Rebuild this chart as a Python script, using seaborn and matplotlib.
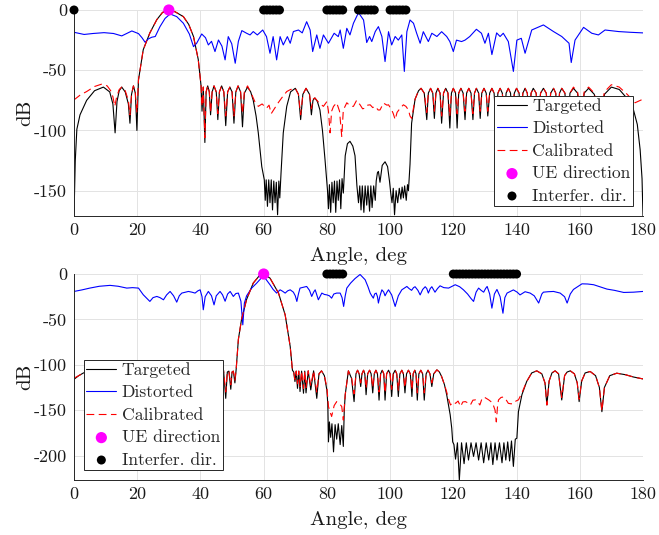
import seaborn as sns
import matplotlib.pyplot as plt
import numpy as np
import warnings

warnings.filterwarnings('ignore')

# ---- data (angle in deg, level in dB) ----
top_targeted = [
    (0, -171), (0.4, -125), (0.9, -99), (1.9, -87), (4.0, -75), (6.5, -67), (9.3, -64), (11.3, -68),
    (12.3, -78), (13.0, -102), (13.6, -76), (14.3, -67), (15.1, -64), (16.2, -68), (17.2, -78), (17.7, -94),
    (18.2, -70), (18.8, -63), (19.4, -69), (19.9, -100), (20.4, -58), (21.9, -33), (24.0, -19), (26.2, -8),
    (28.0, -2), (30.0, 0), (32.0, -1.5), (34.6, -5.5), (36.3, -12), (37.8, -22), (39.3, -41), (40.2, -63),
    (40.5, -84), (40.9, -64), (41.4, -110), (41.8, -68), (42.3, -63), (42.8, -68), (43.2, -87), (43.7, -68),
    (44.3, -63), (45.0, -68), (45.5, -91), (46.0, -68), (46.7, -63), (47.4, -68), (48.0, -96), (48.6, -68),
    (49.3, -64), (50.0, -68), (50.6, -94), (51.2, -68), (51.9, -63), (52.7, -68), (53.3, -97), (53.9, -69),
    (54.9, -64), (55.9, -68), (56.7, -75), (57.6, -88), (58.3, -102), (59.4, -130), (60.2, -141),
    (60.5, -158), (60.8, -141), (61.2, -163), (61.6, -141), (62.0, -160), (62.4, -141), (62.8, -166),
    (63.2, -142), (63.6, -160), (64.0, -143), (64.4, -170), (64.8, -142), (65.1, -156), (65.5, -135),
    (66.2, -102), (67.3, -80), (68.5, -68), (70.0, -65), (71.0, -70), (71.7, -91), (72.4, -70), (73.4, -65),
    (74.5, -70), (75.1, -87), (75.6, -75), (76.2, -73), (77.0, -76), (77.8, -83), (78.6, -100), (79.4, -124),
    (80.2, -150), (80.5, -165), (80.8, -145), (81.2, -168), (81.6, -143), (82.0, -160), (82.4, -142),
    (82.8, -168), (83.2, -142), (83.6, -158), (84.0, -141), (84.4, -165), (84.8, -140), (85.2, -152),
    (85.8, -121), (86.5, -111), (87.3, -109), (88.2, -113), (88.9, -121), (89.5, -146), (90.0, -160),
    (90.4, -146), (90.8, -166), (91.2, -146), (91.7, -168), (92.1, -146), (92.6, -162), (93.0, -146),
    (93.5, -167), (93.9, -146), (94.3, -164), (94.8, -146), (95.3, -158), (95.6, -142), (96.0, -135),
    (96.3, -134), (96.8, -143), (97.5, -129), (98.4, -126), (99.2, -130), (99.8, -142), (100.2, -152),
    (100.6, -160), (101.0, -148), (101.4, -170), (101.9, -150), (102.4, -160), (102.9, -148), (103.4, -157),
    (103.8, -147), (104.2, -156), (104.6, -146), (105.1, -158), (105.5, -145), (105.8, -150), (106.3, -128),
    (106.8, -94), (107.9, -74), (109.0, -67), (109.8, -65), (110.8, -69), (111.6, -91), (112.1, -69),
    (112.8, -65), (113.5, -69), (114.0, -90), (114.5, -69), (115.1, -65), (115.8, -69), (116.3, -94),
    (116.9, -69), (117.6, -65), (118.3, -69), (118.9, -98), (119.4, -69), (120.0, -65), (120.7, -69),
    (121.2, -98), (121.7, -69), (122.4, -65), (123.1, -69), (123.7, -91), (124.2, -69), (124.9, -65),
    (125.6, -69), (126.2, -91), (126.7, -69), (127.3, -65), (128.0, -69), (128.5, -90), (129.0, -69),
    (129.7, -65), (130.4, -69), (130.9, -88), (131.5, -69), (132.2, -65), (132.9, -69), (133.5, -95),
    (134.1, -69), (134.8, -65), (135.5, -69), (136.1, -92), (136.7, -69), (137.4, -65), (138.1, -69),
    (138.7, -92), (139.3, -69), (140.0, -65), (140.8, -69), (141.4, -94), (142.0, -69), (142.7, -65),
    (143.4, -69), (144.0, -92), (144.6, -69), (145.3, -65), (146.2, -69), (146.9, -95), (147.6, -69),
    (148.5, -65), (149.4, -69), (150.1, -95), (150.8, -69), (151.7, -65), (152.4, -69), (153.0, -96),
    (153.6, -69), (154.3, -65), (155.3, -69), (156.1, -98), (156.9, -69), (158.0, -65), (159.3, -69),
    (160.4, -100), (161.4, -69), (162.8, -65), (164.6, -70), (166.4, -104), (167.8, -70), (170.0, -64),
    (172.5, -66), (174.5, -72), (177.0, -83), (178.2, -95), (179.1, -116), (179.7, -140), (180, -171),
]

top_distorted = [
    (0, -18.5), (3.2, -20.3), (6, -19.5), (9.5, -18.8), (12.5, -19.5), (15.1, -21.5), (18.3, -17.4),
    (20.4, -19.6), (21.5, -23), (22.5, -26.8), (23.5, -24), (24.6, -22.6), (25.7, -22), (27.2, -13.8),
    (28.8, -7), (30.4, -3.3), (32.5, -5.5), (34.6, -11), (36.5, -20), (37.8, -30.4), (38.8, -27.6),
    (40.4, -19.9), (41.6, -23), (42.5, -29), (43.5, -26), (44.6, -34.5), (45.7, -24.9), (46.8, -30),
    (47.8, -41.4), (48.8, -22.1), (49.9, -28), (51.0, -44.2), (52.0, -26), (53.1, -17.1), (54.6, -19.3),
    (55.7, -20.7), (56.7, -17.9), (58, -20.7), (59.7, -16.6), (60.9, -22.1), (62, -35.9), (63, -22.1),
    (64.1, -41.4), (65.2, -22.1), (66.2, -29), (67.5, -22.1), (68.4, -27.6), (69.4, -17.9), (71.0, -16.6),
    (72.2, -19), (73.6, -9.7), (74.7, -16.6), (75.5, -34.5), (76.8, -20.7), (77.8, -31.8), (78.9, -20.7),
    (80.5, -27.6), (82.3, -19.3), (83.6, -22.1), (84.2, -16.6), (85.2, -31.8), (86.3, -15.2), (87.3, -20.7),
    (88.4, -11), (90.0, -2.2), (91.6, -8.3), (92.6, -27), (93.5, -22), (94.2, -26.2), (95.3, -17.9),
    (96.3, -13.8), (97.4, -22), (98.4, -42.8), (99.5, -18), (100.5, -29), (101.6, -22), (102.6, -25),
    (103.7, -20.7), (104.5, -51), (105.3, -18), (106.3, -8.3), (107.4, -11), (108.4, -19.3), (109.5, -27.6),
    (110.5, -18), (112.1, -26.2), (113.2, -19.3), (114.8, -22), (116.3, -18), (117.9, -22), (118.9, -26.2),
    (120, -34.5), (121, -25), (122.6, -26.2), (123.7, -25), (125.2, -22), (127.3, -16), (128.9, -19.3),
    (130, -27.6), (131.1, -19.3), (132.2, -37), (133.7, -19), (134.8, -22), (135.8, -19.3), (137.4, -26.2),
    (139.0, -51), (140.1, -25), (141.5, -23.5), (142.7, -35.9), (144.8, -16.6), (148.5, -12.4),
    (151.7, -17.9), (154.3, -22), (156.6, -27.6), (157.3, -43.6), (158.5, -25), (161.2, -14.4),
    (163.8, -19.3), (165.9, -20.7), (168, -16.6), (172.3, -17.9), (176, -18.5), (180, -19),
]

top_calibrated = [
    (0, -74.6), (2, -70.5), (4, -67.7), (6.5, -63.5), (8.8, -61.5), (10.5, -63), (11.6, -67), (12.3, -72),
    (12.9, -80), (13.5, -72), (14.3, -66), (15.1, -64), (16.2, -67), (17.2, -75), (17.7, -87), (18.2, -70),
    (18.8, -63), (19.4, -69), (19.9, -85), (20.4, -58), (21.9, -33), (24.0, -19), (26.2, -8), (28.0, -2),
    (30.0, 0), (32.0, -1.5), (34.6, -5.5), (36.3, -12), (37.8, -22), (39.3, -41), (40.2, -63), (40.5, -80),
    (40.9, -64), (41.4, -106), (41.8, -68), (42.3, -63), (42.8, -68), (43.2, -85), (43.7, -68), (44.3, -63),
    (45.0, -68), (45.5, -86), (46.0, -68), (46.7, -63), (47.4, -68), (48.0, -88), (48.6, -68), (49.3, -64),
    (50.0, -68), (50.6, -88), (51.2, -68), (51.9, -63), (52.7, -68), (53.3, -86), (53.9, -68), (54.9, -63),
    (56.2, -70), (57.2, -76), (58.3, -80), (59.5, -78), (60.9, -81.5), (61.7, -79), (62.4, -86), (63.5, -81.5),
    (64.6, -77), (65.7, -73), (67.3, -67.7), (68.5, -66), (70.0, -65), (71.0, -70), (71.7, -87), (72.4, -70),
    (73.4, -65), (74.5, -70), (75.1, -82), (75.6, -74), (76.2, -73), (77.5, -77), (78.9, -80), (80.0, -76),
    (80.5, -84), (81.0, -102), (81.5, -84), (82.1, -80), (83.1, -77), (84.0, -84), (84.7, -105), (85.2, -83),
    (86.3, -77), (87.1, -79), (87.9, -80), (88.4, -80), (89.4, -75), (90.5, -78.7), (91.3, -82),
    (92.1, -81.5), (92.9, -79), (93.7, -78.7), (94.5, -81), (95.3, -80), (96.2, -83), (96.8, -83),
    (97.9, -77.3), (99.0, -79), (99.5, -78.7), (100.5, -83), (101.0, -86), (101.6, -91), (102.2, -85),
    (103.2, -81.5), (104.2, -78.7), (105.0, -80), (105.8, -83), (106.3, -88), (106.8, -90), (107.9, -74),
    (109.0, -67), (109.8, -65), (110.8, -69), (111.6, -85), (112.1, -69), (112.8, -65), (113.5, -69),
    (114.0, -84), (114.5, -69), (115.1, -65), (115.8, -69), (116.3, -88), (116.9, -69), (117.6, -65),
    (118.3, -69), (118.9, -88), (119.4, -69), (120.0, -65), (120.7, -69), (121.2, -86), (121.7, -69),
    (122.4, -65), (123.1, -69), (123.7, -84), (124.2, -69), (124.9, -65), (125.6, -69), (126.2, -86),
    (126.7, -69), (127.3, -65), (128.0, -69), (128.5, -84), (129.0, -69), (129.7, -65), (130.4, -69),
    (130.9, -84), (131.5, -69), (132.2, -65), (132.9, -69), (133.5, -86), (134.1, -69), (134.8, -65),
    (135.5, -69), (136.1, -84), (136.7, -69), (137.4, -65), (138.1, -69), (138.7, -84), (139.3, -69),
    (140.0, -65), (140.8, -69), (141.4, -84), (142.0, -69), (142.7, -65), (143.4, -69), (144.0, -84),
    (144.6, -69), (145.3, -65), (146.2, -69), (146.9, -85), (147.6, -69), (148.5, -65), (149.4, -69),
    (150.1, -85), (150.8, -69), (151.7, -65), (152.4, -69), (153.0, -85), (153.6, -69), (154.3, -65),
    (155.3, -69), (156.1, -86), (156.9, -69), (158.0, -64), (159.3, -68), (160.4, -86), (161.4, -68),
    (162.8, -64), (164.6, -69), (166.4, -88), (167.8, -68), (170.0, -62), (172.5, -64), (175.0, -70),
    (177.5, -77), (180, -74),
]

bot_targeted = [
    (0, -116), (1.5, -112), (3, -109), (5, -107), (7, -106), (9, -107), (10, -125), (11, -107), (13, -106),
    (15, -108), (16, -130), (17, -108), (19, -106), (21, -108), (22, -128), (23, -108), (25, -106),
    (27, -108), (28, -132), (29, -108), (31, -106), (33, -108), (34, -130), (35, -108), (37, -106),
    (39, -108), (40, -128), (41, -108), (42.5, -106), (43.7, -108), (44.5, -130), (45.0, -108),
    (45.8, -106.7), (46.1, -138), (46.6, -108), (47.3, -106), (48.0, -137), (48.5, -108), (49.0, -107),
    (49.6, -127), (50.0, -108), (50.4, -107), (50.9, -120), (51.3, -105), (52.0, -72), (53.0, -50),
    (54.6, -28), (56.7, -10), (58.8, -1.1), (60.0, 0), (62.0, -4.5), (64.7, -21), (66.8, -45), (68.4, -80),
    (69.1, -106), (69.5, -108), (69.9, -118.5), (70.3, -107), (70.7, -126), (71.1, -107), (71.5, -129.5),
    (72.0, -107), (72.6, -131.4), (73.0, -107), (73.4, -131), (74.1, -106.7), (74.9, -127.7),
    (75.8, -106.7), (76.8, -137), (77.5, -110), (78.3, -106.7), (79.2, -112), (80.0, -128), (80.3, -144),
    (80.5, -185), (80.8, -163), (81.2, -180), (81.6, -165), (82.1, -196), (82.6, -166), (83.1, -182),
    (83.6, -165), (84.2, -188), (84.7, -167), (85.2, -190), (85.5, -150), (85.8, -133), (86.8, -106.7),
    (87.8, -115), (88.6, -140.6), (89.2, -110), (89.7, -106), (90.2, -110), (90.7, -124), (91.1, -110),
    (91.6, -106), (92.0, -110), (92.4, -133), (92.9, -110), (93.5, -106), (94.0, -110), (94.5, -131),
    (95.0, -110), (95.5, -106), (96.0, -110), (96.5, -139), (97.0, -110), (97.5, -106), (98.0, -110),
    (98.4, -139), (98.9, -110), (99.5, -106), (100.0, -110), (100.5, -135), (101.0, -110), (101.6, -106),
    (102.1, -110), (102.6, -135), (103.1, -110), (103.7, -106), (104.2, -110), (104.7, -131), (105.2, -110),
    (105.8, -106), (106.4, -110), (106.9, -135), (107.3, -110), (107.8, -106), (108.2, -110), (108.6, -139),
    (109.1, -110), (109.7, -106), (110.3, -110), (110.8, -139), (111.4, -110), (112.0, -106), (112.6, -110),
    (113.2, -124), (113.8, -110), (114.8, -105.6), (115.6, -108), (116.3, -113), (117.2, -122),
    (117.9, -133), (118.5, -145), (119.0, -155), (119.5, -170), (119.8, -185), (120.2, -188), (120.7, -204),
    (121.3, -186), (121.9, -227), (122.6, -186), (123.4, -209), (124.1, -186), (124.8, -205), (125.6, -186),
    (126.4, -201), (127.2, -186), (128.0, -205), (128.8, -186), (129.6, -208), (130.4, -186), (131.2, -205),
    (131.9, -186), (132.5, -210), (133.2, -186), (133.8, -205), (134.6, -186), (135.4, -208), (136.0, -186),
    (136.6, -205), (137.2, -185), (137.8, -206), (138.4, -184), (139.0, -212), (139.6, -182), (140.1, -181),
    (140.6, -151.6), (141.7, -133), (143.2, -118.5), (144.8, -109), (146.4, -106.7), (148.0, -110),
    (149.0, -120), (149.6, -144.3), (150.3, -118), (151.2, -109), (152.2, -106.7), (153.3, -110),
    (154.3, -138.8), (155.2, -112), (156.0, -108), (157.0, -106.7), (158.3, -110), (159.2, -120),
    (159.8, -140.6), (160.6, -118), (161.7, -109), (163.3, -107.4), (165.0, -112), (166.2, -125),
    (167.0, -151.7), (167.8, -125), (169.5, -112), (171.7, -109.3), (174.5, -111), (177.0, -113.5),
    (180, -115.6),
]

bot_distorted = [
    (0, -19.2), (2.5, -17.5), (5, -15.5), (8, -13.5), (11.4, -12.5), (14, -13.5), (16.7, -15.5), (18.5, -15),
    (20.4, -15.5), (21.9, -22.8), (24.0, -30.2), (25.0, -26), (26.2, -24.7), (27.2, -26), (28.3, -28.4),
    (29.3, -23), (30.4, -19.2), (31.5, -24), (32.5, -31), (33.3, -24), (34.1, -21), (36.2, -19.2),
    (37.3, -20), (38.3, -21), (39.2, -18.5), (39.9, -17.4), (40.5, -25), (40.9, -39.4), (41.5, -25),
    (42.5, -19.2), (43.5, -24), (44.3, -34), (45.0, -24), (46.2, -19.2), (47.0, -23), (47.8, -30),
    (48.6, -22), (49.4, -19.2), (50.4, -24.7), (51.2, -21.5), (52, -21), (52.8, -30), (53.4, -56),
    (53.9, -32), (54.6, -24), (56.2, -15.5), (57.8, -10), (59.9, -1.9), (62, -11.8), (63, -17), (64.1, -21),
    (65.2, -17.4), (66.0, -19), (66.8, -21), (67.6, -18.5), (68.4, -17.4), (69.4, -20), (70.0, -24),
    (70.5, -30.2), (71.0, -22), (71.5, -15.5), (73.6, -13.7), (74.5, -18), (75.2, -24.7), (75.8, -20),
    (76.3, -17.4), (77.3, -28.4), (78.4, -21), (79.2, -22.5), (80, -23), (80.8, -24), (81.5, -26.6),
    (82.2, -22), (83.1, -21), (84.2, -21), (84.8, -26), (85.3, -35.7), (85.8, -24), (86.3, -15.5),
    (87.5, -10), (88.9, -5), (90.5, -0.5), (92.1, -6.3), (93.0, -14), (93.7, -21), (94.2, -24),
    (94.7, -26.6), (95.1, -22), (95.6, -21), (96.0, -25), (96.3, -32), (96.8, -24), (97.4, -17.4),
    (98.0, -20), (98.4, -24), (99.0, -20), (99.5, -17.4), (100.5, -23), (101.6, -35.7), (102.6, -24),
    (103.7, -17.4), (105.3, -13.7), (106.0, -16), (106.8, -18), (107.4, -15), (107.9, -14), (108.8, -18),
    (109.5, -23), (110.3, -17), (111.1, -14), (111.6, -16), (112.1, -21), (112.7, -16), (113.2, -14),
    (113.7, -17), (114.2, -20), (115.0, -16), (115.8, -13), (117, -15), (118.5, -15.5), (120.6, -11.8),
    (122, -14), (123.2, -17.4), (124.5, -22), (125.6, -27), (126.4, -30.2), (127.2, -20), (128.0, -15.5),
    (128.8, -18), (129.6, -20), (130.2, -16), (130.7, -13.7), (131.5, -22), (132.2, -37.6), (133.0, -22),
    (133.8, -17), (134.8, -25), (135.7, -43.2), (136.3, -26), (137.0, -21), (139.0, -17.5), (140.2, -20),
    (141.1, -23), (142.7, -19.5), (144.3, -21), (145.6, -24), (147.0, -32), (148.0, -22), (148.5, -20),
    (150, -19.5), (151.7, -19.2), (153.8, -21), (155.2, -25), (156.0, -32), (157.0, -22), (158.0, -17),
    (160.7, -10.8), (162.5, -11), (164.4, -11.8), (168.6, -16.6), (171, -18), (173.9, -20.3), (177, -20),
    (180, -19.2),
]

bot_calibrated = [
    (0, -114.8), (1.5, -112), (3, -109), (5, -107), (7, -106), (9, -107), (10, -120), (11, -107), (13, -106),
    (15, -108), (16, -122), (17, -108), (19, -106), (21, -108), (22, -120), (23, -108), (25, -106),
    (27, -108), (28, -122), (29, -108), (31, -106), (33, -108), (34, -120), (35, -108), (37, -106),
    (39, -108), (40, -120), (41, -108), (42.5, -106), (43.7, -108), (44.5, -122), (45.0, -108),
    (45.8, -106.7), (46.1, -130), (46.6, -108), (47.3, -106), (48.0, -130), (48.5, -108), (49.0, -107),
    (49.6, -122), (50.0, -108), (50.4, -107), (50.9, -117), (51.3, -105), (52.0, -72), (53.0, -50),
    (54.6, -28), (56.7, -10), (58.8, -1.1), (60.0, 0), (62.0, -4.5), (64.7, -21), (66.8, -45), (68.4, -80),
    (69.1, -106), (69.5, -108), (69.9, -116), (70.3, -107), (70.7, -121), (71.1, -107), (71.5, -124),
    (72.0, -107), (72.6, -126), (73.0, -107), (73.4, -125), (74.1, -106.7), (74.9, -123), (75.8, -106.7),
    (76.8, -130), (77.5, -110), (78.3, -106.7), (79.2, -112), (80.0, -125), (80.5, -146), (81.0, -152),
    (81.5, -157), (82.3, -145), (83.1, -140.6), (84.0, -143), (84.7, -146), (85.2, -161), (85.8, -133),
    (86.8, -106.7), (87.8, -114), (88.6, -132), (89.2, -110), (89.7, -106), (90.2, -110), (90.7, -120),
    (91.1, -110), (91.6, -106), (92.0, -110), (92.4, -126), (92.9, -110), (93.5, -106), (94.0, -110),
    (94.5, -125), (95.0, -110), (95.5, -106), (96.0, -110), (96.5, -130), (97.0, -110), (97.5, -106),
    (98.0, -110), (98.4, -131), (98.9, -110), (99.5, -106), (100.0, -110), (100.5, -127), (101.0, -110),
    (101.6, -106), (102.1, -110), (102.6, -128), (103.1, -110), (103.7, -106), (104.2, -110), (104.7, -125),
    (105.2, -110), (105.8, -106), (106.4, -110), (106.9, -128), (107.3, -110), (107.8, -106), (108.2, -110),
    (108.6, -131), (109.1, -110), (109.7, -106), (110.3, -110), (110.8, -131), (111.4, -110), (112.0, -106),
    (112.6, -110), (113.2, -120), (113.8, -110), (114.8, -105.6), (115.6, -108), (116.3, -113),
    (117.2, -122), (117.9, -130), (118.5, -138), (119.1, -144.3), (120.0, -141), (120.7, -142.5),
    (121.5, -140), (122.3, -146), (123.0, -141), (123.8, -140.6), (124.6, -142), (125.4, -144.3),
    (126.2, -139), (127.0, -138.7), (127.7, -141), (128.4, -144.3), (129.0, -138), (129.7, -135.5),
    (130.4, -137), (131.2, -138.7), (132.4, -142), (133.2, -150), (133.6, -163), (134.0, -145),
    (134.3, -138.7), (135.1, -136), (135.9, -135.5), (136.6, -138), (137.4, -142.5), (138.2, -143),
    (139.0, -143), (139.8, -140), (140.6, -138.7), (141.7, -131), (143.2, -118.5), (144.8, -109),
    (146.4, -106.7), (148.0, -110), (149.0, -120), (149.6, -144.3), (150.3, -118), (151.2, -109),
    (152.2, -106.7), (153.3, -110), (154.3, -136), (155.2, -112), (156.0, -108), (157.0, -106.7),
    (158.3, -110), (159.2, -120), (159.8, -138), (160.6, -118), (161.7, -109), (163.3, -107.4),
    (165.0, -112), (166.2, -125), (167.0, -151), (167.8, -125), (169.5, -112), (171.7, -109.3),
    (174.5, -111), (177.0, -113.5), (180, -115.6),
]

top_ue = [30]
bot_ue = [60]
top_interf = [0, 60, 61, 62, 63, 64, 65, 80, 81, 82, 83, 84, 85, 90, 91, 92, 93, 94, 95,
              100, 101, 102, 103, 104, 105]
bot_interf = [80, 81, 82, 83, 84, 85, 120, 121, 122, 123, 124, 125, 126, 127, 128, 129, 130,
              131, 132, 133, 134, 135, 136, 137, 138, 139, 140]

x_ticks = [0, 20, 40, 60, 80, 100, 120, 140, 160, 180]
top_yticks = [0, -50, -100, -150]
bot_yticks = [0, -50, -100, -150, -200]

sns.set_style('whitegrid')
plt.rcParams['font.family'] = ['cmr10', 'DejaVu Serif']
plt.rcParams['axes.formatter.use_mathtext'] = False
plt.rcParams['axes.unicode_minus'] = False

fig = plt.figure(figsize=(6.59, 5.35), dpi=100)
ax1 = fig.add_axes([0.1123, 0.5963, 0.8634, 0.385])
ax2 = fig.add_axes([0.1123, 0.1028, 0.8634, 0.385])


def draw(ax, targ, dist, cal, ue, interf, ylo, yticks, loc):
    t = np.array(targ)
    d = np.array(dist)
    c = np.array(cal)
    sns.lineplot(x=t[:, 0], y=t[:, 1], ax=ax, color='k', lw=0.8, label='Targeted',
                 sort=False, estimator=None)
    sns.lineplot(x=d[:, 0], y=d[:, 1], ax=ax, color='#0000ff', lw=0.8, label='Distorted',
                 sort=False, estimator=None)
    sns.lineplot(x=c[:, 0], y=c[:, 1], ax=ax, color='#ff0000', lw=0.8, label='Calibrated',
                 sort=False, estimator=None, linestyle='--')
    ax.lines[-1].set_dashes([7, 4])
    sns.scatterplot(x=ue, y=[0] * len(ue), ax=ax, color='#ff00ff', s=65, edgecolor='none',
                    label='UE direction', clip_on=False, zorder=5)
    sns.scatterplot(x=interf, y=[0] * len(interf), ax=ax, color='k', s=42, edgecolor='none',
                    label='Interfer. dir.', clip_on=False, zorder=5)
    ax.set_xlim(0, 180)
    ax.set_ylim(ylo, 0)
    ax.set_xticks(x_ticks)
    ax.set_yticks(yticks)
    ax.set_yticklabels([str(v) for v in yticks])
    ax.grid(True, color='#e3e3e3', lw=0.7)
    for s in ['top', 'right']:
        ax.spines[s].set_visible(False)
    for s in ['left', 'bottom']:
        ax.spines[s].set_color('0.15')
        ax.spines[s].set_linewidth(0.7)
    ax.tick_params(direction='in', length=4, width=0.6, color='0.15', labelsize=13,
                   labelcolor='0.1', pad=5)
    ax.set_xlabel('Angle, deg', fontsize=15, color='0.1', labelpad=6)
    ax.set_ylabel('dB', fontsize=15, color='0.1', labelpad=0)
    leg = ax.legend(loc=loc, frameon=True, fancybox=False, edgecolor='0.15', framealpha=1,
                    fontsize=12.7, handlelength=1.7, handletextpad=0.3, labelspacing=0.4,
                    borderpad=0.15, borderaxespad=0.55)
    leg.get_frame().set_linewidth(0.7)


draw(ax1, top_targeted, top_distorted, top_calibrated, top_ue, top_interf, -171, top_yticks,
     'lower right')
draw(ax2, bot_targeted, bot_distorted, bot_calibrated, bot_ue, bot_interf, -227, bot_yticks,
     'lower left')
fig.align_ylabels([ax1, ax2])

fig.savefig('out.png', dpi=100)
